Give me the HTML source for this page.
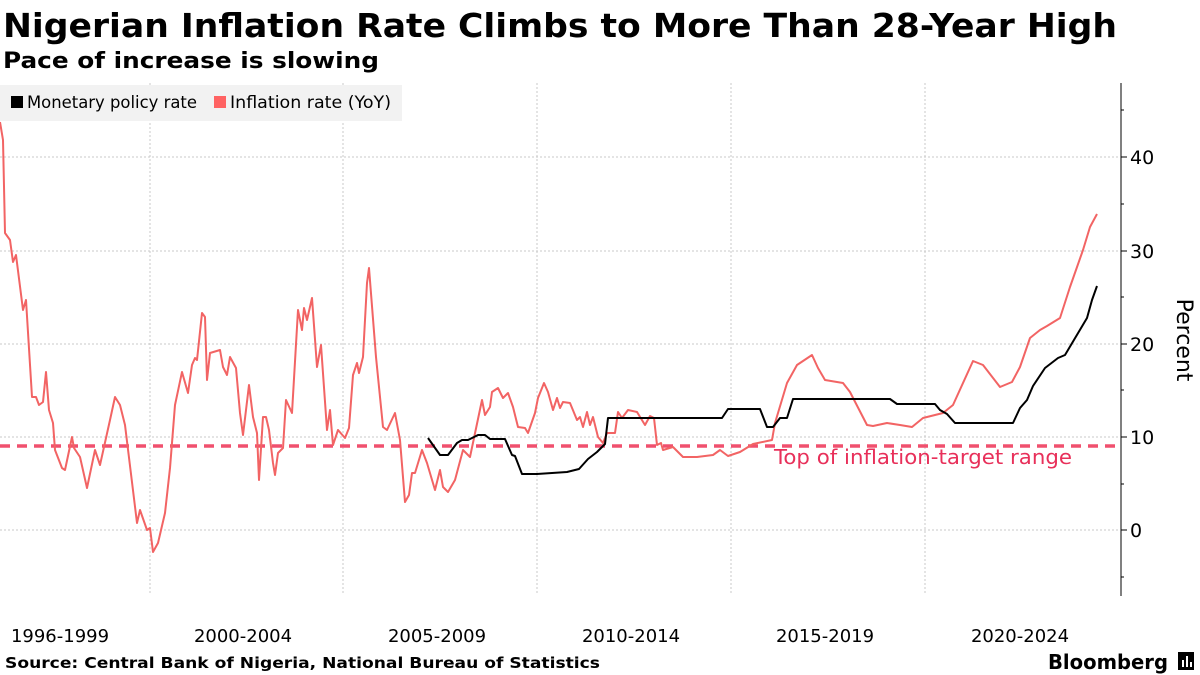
<!DOCTYPE html>
<html><head><meta charset="utf-8"><style>
html,body{margin:0;padding:0;background:#fff;}
svg{display:block;font-family:"DejaVu Sans","Liberation Sans",sans-serif;}
</style></head><body>
<svg width="1200" height="675" viewBox="0 0 1200 675" xmlns="http://www.w3.org/2000/svg">
<rect width="1200" height="675" fill="#fff"/>
<text x="3" y="37" font-size="33" font-weight="bold" fill="#000" textLength="1114" lengthAdjust="spacingAndGlyphs">Nigerian Inflation Rate Climbs to More Than 28-Year High</text>
<text x="3" y="68" font-size="22" font-weight="bold" fill="#000" textLength="376" lengthAdjust="spacingAndGlyphs">Pace of increase is slowing</text>
<g stroke="#c8c8c8" stroke-width="1" stroke-dasharray="2,2">
<line x1="0" x2="1120" y1="157" y2="157"/><line x1="0" x2="1120" y1="251" y2="251"/>
<line x1="0" x2="1120" y1="344" y2="344"/><line x1="0" x2="1120" y1="437" y2="437"/>
<line x1="0" x2="1120" y1="530" y2="530"/>
<line x1="150" x2="150" y1="83" y2="595"/><line x1="343" x2="343" y1="83" y2="595"/>
<line x1="537" x2="537" y1="83" y2="595"/><line x1="731" x2="731" y1="83" y2="595"/>
<line x1="925" x2="925" y1="83" y2="595"/>
</g>
<rect x="0" y="85" width="402" height="36" fill="#f2f2f2"/>
<rect x="11" y="96" width="12" height="12" fill="#000"/>
<text x="27" y="108" font-size="17" fill="#000" textLength="170" lengthAdjust="spacingAndGlyphs">Monetary policy rate</text>
<rect x="214" y="96" width="12" height="12" fill="#ff6363"/>
<text x="230" y="108" font-size="17" fill="#000" textLength="161" lengthAdjust="spacingAndGlyphs">Inflation rate (YoY)</text>
<line x1="0" x2="1120" y1="446" y2="446" stroke="#f0506e" stroke-width="3.5" stroke-dasharray="10,7"/>
<text x="774" y="464" font-size="20" fill="#e8305a" textLength="298" lengthAdjust="spacingAndGlyphs">Top of inflation-target range</text>
<polyline fill="none" stroke="#f26464" stroke-width="2" stroke-linejoin="round" points="0,122 3,140 5,233 10,240 13,262 16,255 23,310 26,300 32,397 36,397 39,405 43,402 46,372 49,410 53,423 55,450 62,468 65,470 72,437 74,448 80,457 87,488 95,450 100,465 110,420 115,397 120,405 125,425 137,523 140,510 147,530 150,528 153,552 158,543 165,513 170,468 175,405 182,372 188,393 192,365 195,358 197,360 202,313 205,317 207,380 210,353 220,350 223,367 227,375 230,357 236,368 240,413 243,435 249,385 253,417 257,433 259,480 263,417 266,417 269,430 273,463 275,475 278,453 283,448 286,400 292,413 298,310 302,330 304,308 307,320 312,298 317,367 321,345 327,430 330,410 333,445 338,430 345,438 349,428 353,375 357,363 359,373 363,357 367,283 369,268 376,357 383,427 387,430 395,413 400,440 405,502 409,495 412,473 415,473 422,450 427,463 435,490 440,470 443,487 448,492 455,480 463,450 470,457 482,400 485,415 490,407 492,392 498,388 503,398 508,393 513,407 518,427 525,428 528,433 535,413 538,398 544,383 548,392 553,410 557,398 560,408 563,402 570,403 577,420 580,417 583,427 587,412 590,425 593,417 598,437 603,443 607,433 615,433 618,412 622,418 628,410 637,412 645,425 650,416 654,418 657,445 661,443 663,450 673,447 683,457 697,457 713,455 720,450 728,456 740,452 753,444 772,440 775,423 787,383 797,365 812,355 818,368 825,380 843,383 850,392 867,425 873,426 887,423 900,425 912,427 923,418 943,413 953,405 973,361 983,365 1000,387 1012,382 1020,367 1030,338 1040,330 1047,326 1060,318 1070,287 1083,250 1090,227 1097,214"/>
<polyline fill="none" stroke="#000" stroke-width="2" stroke-linejoin="round" points="428,438 440,455 448,455 457,443 462,440 468,440 478,435 485,435 490,439 505,439 512,455 515,456 522,474 537,474 567,472 579,469 588,459 597,452 605,444 608,418 722,418 728,409 760,409 767,427 773,427 780,418 787,418 793,399 890,399 897,404 935,404 940,410 947,414 955,423 1013,423 1020,408 1027,400 1033,386 1045,368 1058,358 1065,355 1087,318 1092,300 1097,286"/>
<line x1="1121" x2="1121" y1="83" y2="596" stroke="#000" stroke-width="1"/>
<g stroke="#000" stroke-width="1">
<line x1="1121" x2="1127" y1="157" y2="157"/><line x1="1121" x2="1127" y1="251" y2="251"/>
<line x1="1121" x2="1127" y1="344" y2="344"/><line x1="1121" x2="1127" y1="437" y2="437"/>
<line x1="1121" x2="1127" y1="530" y2="530"/>
<line x1="1121" x2="1124" y1="110" y2="110"/><line x1="1121" x2="1124" y1="204" y2="204"/>
<line x1="1121" x2="1124" y1="297" y2="297"/><line x1="1121" x2="1124" y1="390" y2="390"/>
<line x1="1121" x2="1124" y1="484" y2="484"/><line x1="1121" x2="1124" y1="577" y2="577"/>
</g>
<g font-size="19" fill="#000">
<text x="1130" y="164">40</text><text x="1130" y="258">30</text>
<text x="1130" y="351">20</text><text x="1130" y="444">10</text>
<text x="1130" y="537">0</text>
</g>
<text transform="translate(1177,340) rotate(90)" font-size="22" text-anchor="middle" fill="#000">Percent</text>
<g font-size="18" fill="#000" text-anchor="middle">
<text x="60" y="642">1996-1999</text><text x="243" y="642">2000-2004</text>
<text x="437" y="642">2005-2009</text><text x="631" y="642">2010-2014</text>
<text x="825" y="642">2015-2019</text><text x="1020" y="642">2020-2024</text>
</g>
<text x="5" y="668" font-size="15" font-weight="bold" fill="#000" textLength="595" lengthAdjust="spacingAndGlyphs">Source: Central Bank of Nigeria, National Bureau of Statistics</text>
<text x="1048" y="669" font-size="20" font-weight="bold" fill="#000" textLength="120" lengthAdjust="spacingAndGlyphs">Bloomberg</text>
<rect x="1178" y="652" width="16" height="18" fill="#000"/>
<rect x="1182" y="660" width="2" height="7" fill="#fff"/><rect x="1186" y="656" width="2" height="11" fill="#fff"/><rect x="1190" y="662" width="2" height="5" fill="#fff"/>
</svg>
</body></html>
